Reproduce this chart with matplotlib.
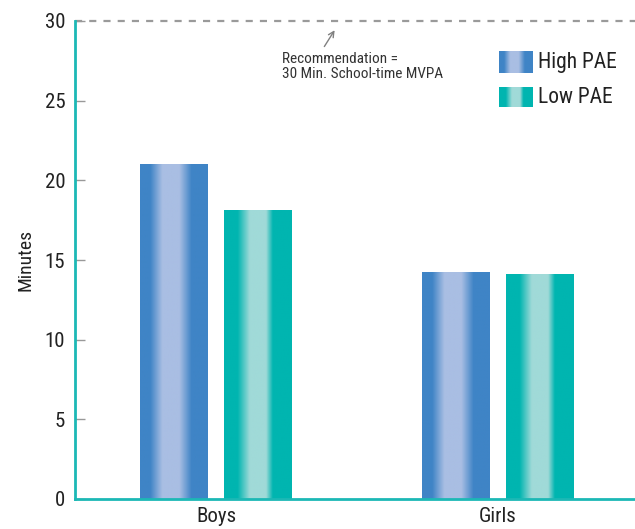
import numpy as np
import matplotlib
matplotlib.use("Agg")
import matplotlib.pyplot as plt
from matplotlib.colors import LinearSegmentedColormap

plt.rcParams["font.family"] = ["Roboto Condensed", "DejaVu Sans"]

# data
groups = ["Boys", "Girls"]
series = ["High PAE", "Low PAE"]
high_pae = [21.0, 14.2]
low_pae = [18.1, 14.1]
recommendation = 30
yticks = [0, 5, 10, 15, 20, 25, 30]

blue_map = LinearSegmentedColormap.from_list("b", ["#3F84C6", "#A9BEE3"])
teal_map = LinearSegmentedColormap.from_list("t", ["#00B5B0", "#A0DAD8"])

# gradient profile across a bar (0 = dark edge, 1 = light centre)
u = np.linspace(0, 1, 200)
blue_prof = np.interp(u, [0, 0.15, 0.33, 0.58, 0.76, 1], [0, 0, 1, 1, 0, 0])
teal_prof = np.interp(u, [0, 0.2, 0.38, 0.62, 0.72, 1], [0, 0, 1, 1, 0, 0])

fig = plt.figure(figsize=(6.35, 5.29), dpi=100)
ax = fig.add_axes([75 / 635, 30 / 529, 560 / 635, 478 / 529])

x = np.arange(len(groups))
w = 0.241
off = 0.15

def grad_bar(xc, h, prof, cmap):
    ax.imshow(prof[np.newaxis, :], cmap=cmap, vmin=0, vmax=1, aspect="auto",
              extent=(xc - w / 2, xc + w / 2, 0, h), interpolation="bilinear", zorder=2)

for i in range(len(groups)):
    grad_bar(x[i] - off, high_pae[i], blue_prof, blue_map)
    grad_bar(x[i] + off, low_pae[i], teal_prof, teal_map)

ax.set_xlim(-0.5, 1.486)
ax.set_ylim(0, 30)

ax.axhline(recommendation, color="#9a9a9a", lw=1.6, ls=(0, (3.2, 3.2)), zorder=1, clip_on=False)

ax.annotate("", xy=(0.426, 29.57), xytext=(0.379, 28.25),
            arrowprops=dict(arrowstyle="->", color="#808080", lw=1))
ax.text(0.234, 28.05, "Recommendation =\n30 Min. School-time MVPA", fontsize=11,
        color="#333333", va="top", ha="left", linespacing=1.1)

# legend swatches
sw = [(blue_prof, blue_map, 0.891, 0.935), (teal_prof, teal_map, 0.820, 0.860)]
for (prof, cmap, y0, y1), lab in zip(sw, series):
    ax.imshow(prof[np.newaxis, :], cmap=cmap, vmin=0, vmax=1, aspect="auto",
              extent=(0.757, 0.816, y0, y1), transform=ax.transAxes, interpolation="bilinear")
    ax.text(0.827, (y0 + y1) / 2, lab, transform=ax.transAxes, fontsize=15.5,
            va="center", ha="left", color="#222222")

ax.set_xticks(x)
ax.set_xticklabels(groups, fontsize=15, color="#222222")
ax.tick_params(axis="x", length=0, pad=6)
ax.set_yticks(yticks)
ax.set_yticklabels([str(t) for t in yticks], fontsize=15, color="#222222")
ax.tick_params(axis="y", direction="in", length=7, color="#999999", width=1, pad=7)

ax.set_ylabel("Minutes", fontsize=14, color="#222222", labelpad=7)

for s in ["top", "right"]:
    ax.spines[s].set_visible(False)
for s in ["left", "bottom"]:
    ax.spines[s].set_color("#1CB8B5")
    ax.spines[s].set_linewidth(2)

fig.savefig("out.png", dpi=100)
